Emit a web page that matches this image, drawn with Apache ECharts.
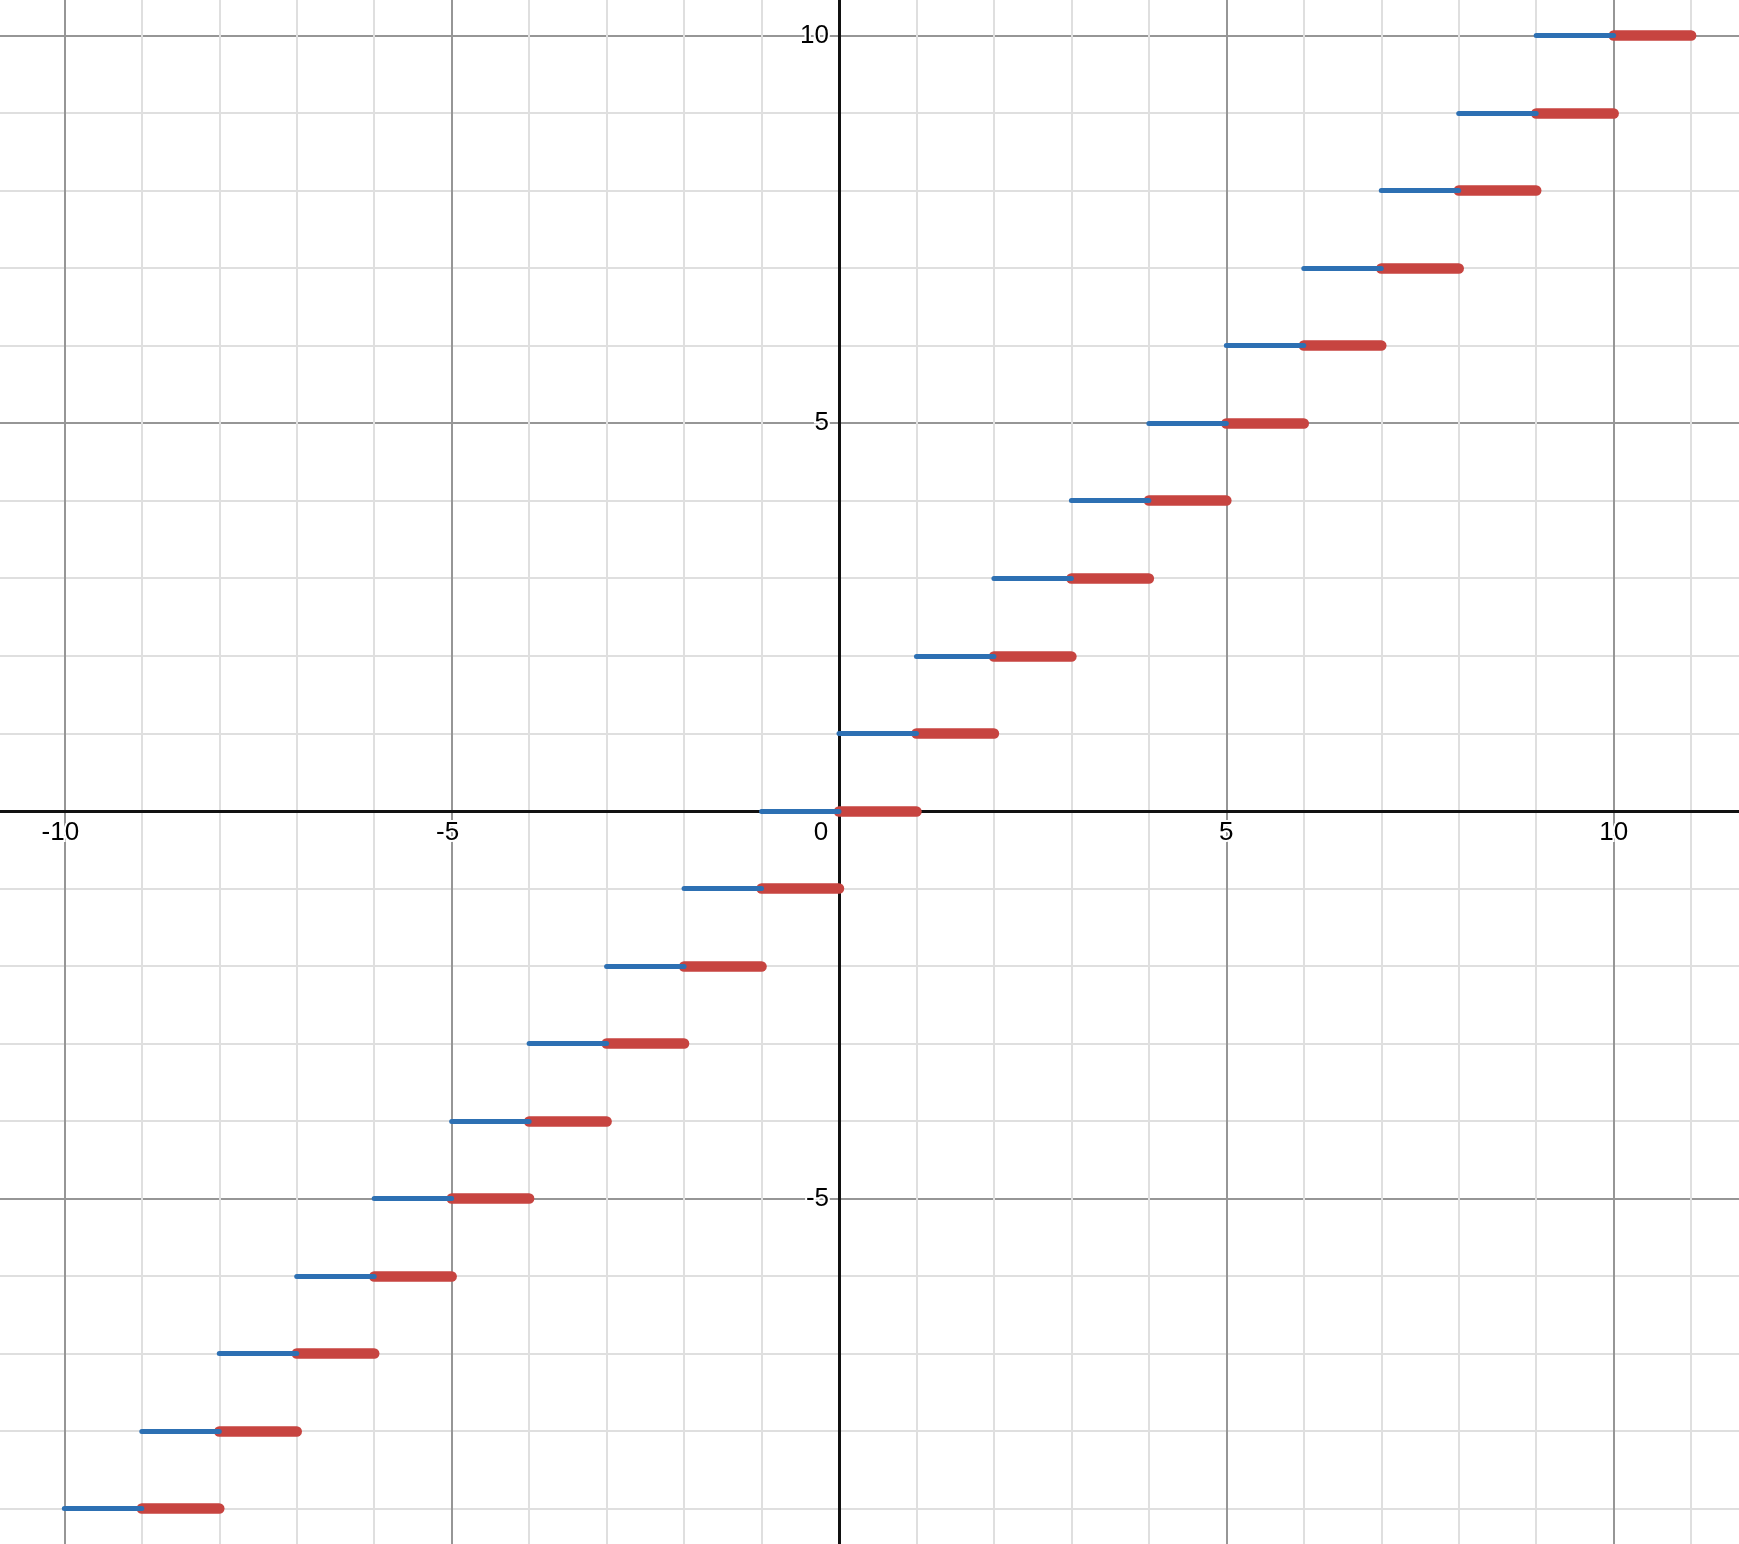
<!DOCTYPE html>
<html><head><meta charset="utf-8">
<script src="https://cdn.jsdelivr.net/npm/echarts@6/dist/echarts.min.js"></script>
<style>
html,body{margin:0;padding:0;overflow:hidden;background:#fff;width:1739px;height:1544px;position:relative;}
#c{position:absolute;left:-323px;top:-352px;width:2324px;height:1938px;}
</style>
</head><body><div id="c"></div>
<script>
// step levels (y values) and segment ends
const levels     = [-9,-8,-7,-6,-5,-4,-3,-2,-1,0,1,2,3,4,5,6,7,8,9,10];
const blueStart  = [-10,-9,-8,-7,-6,-5,-4,-3,-2,-1,0,1,2,3,4,5,6,7,8,9];
const blueEnd    = [-9,-8,-7,-6,-5,-4,-3,-2,-1,0,1,2,3,4,5,6,7,8,9,10];
const redStart   = [-9,-8,-7,-6,-5,-4,-3,-2,-1,0,1,2,3,4,5,6,7,8,9,10];
const redEnd     = [-8,-7,-6,-5,-4,-3,-2,-1,0,1,2,3,4,5,6,7,8,9,10,11];
const xTickLabels = [-10,-5,0,5,10];
const yTickLabels = [-5,5,10];

const FONT = "'Liberation Sans', Arial, sans-serif";
const lblBase = {fontFamily: FONT, fontSize: 26, color: '#000', textBorderColor: '#fff', textBorderWidth: 4};

const blueData = levels.map((y, i) => ({coords: [[blueStart[i], y], [blueEnd[i], y]]}));
const redData  = levels.map((y, i) => ({coords: [[redStart[i], y], [redEnd[i], y]]}));

const chart = echarts.init(document.getElementById('c'), null, {renderer: 'canvas'});
const gridAxisCommon = {
  type: 'value', interval: 5, z: 0,
  axisLine: {show: false, onZero: false},
  axisTick: {show: false},
  axisLabel: {show: false},
  splitLine: {show: true, showMinLine: true, showMaxLine: true, lineStyle: {color: '#969696', width: 2}},
  minorTick: {show: false, splitNumber: 5},
  minorSplitLine: {show: true, lineStyle: {color: '#dfdfdf', width: 2}}
};
const hiddenAxis = {
  type: 'value', show: true, z: 0,
  axisLine: {show: false, onZero: false}, axisTick: {show: false},
  axisLabel: {show: false}, splitLine: {show: false}
};
const axisLineStyle = {color: '#111', width: 3};
chart.setOption({
  animation: false,
  backgroundColor: '#fff',
  grid: [
    // main plotting grid: x -15..15, y -10..15
    {left: 0, right: 0, top: 0, bottom: 0, containLabel: false, outerBoundsMode: 'none'},
    // grid whose bottom edge is y = 0 (holds the x axis line and labels)
    {left: 0, right: 0, top: 0, bottom: '40%', containLabel: false, outerBoundsMode: 'none'},
    // grid whose left edge is x = 0 (holds the y axis line and labels)
    {left: '50%', right: 0, top: 0, bottom: 0, containLabel: false, outerBoundsMode: 'none'}
  ],
  xAxis: [
    Object.assign({}, gridAxisCommon, {gridIndex: 0, min: -15, max: 15}),
    {
      gridIndex: 1, type: 'value', min: -15, max: 15, interval: 5, z: 3, position: 'bottom',
      axisLine: {show: true, onZero: false, lineStyle: axisLineStyle},
      axisTick: {show: false},
      splitLine: {show: false},
      axisLabel: Object.assign({}, lblBase, {
        margin: 9,
        showMinLabel: true, showMaxLabel: true,
        formatter: function (v) {
          if (xTickLabels.indexOf(v) < 0) return '';
          if (v === 0) return '{z|0}';
          if (v < 0) return '{n|' + v + '}';
          return '{p|' + v + '}';
        },
        rich: {
          z: Object.assign({}, lblBase, {padding: [0, 36, 0, 0]}),
          n: Object.assign({}, lblBase, {padding: [0, 8, 0, 0]}),
          p: Object.assign({}, lblBase)
        }
      })
    },
    Object.assign({}, hiddenAxis, {gridIndex: 2, min: 0, max: 15})
  ],
  yAxis: [
    Object.assign({}, gridAxisCommon, {gridIndex: 0, min: -10, max: 15}),
    Object.assign({}, hiddenAxis, {gridIndex: 1, min: 0, max: 15}),
    {
      gridIndex: 2, type: 'value', min: -10, max: 15, interval: 5, z: 3, position: 'left',
      axisLine: {show: true, onZero: false, lineStyle: axisLineStyle},
      axisTick: {show: false},
      splitLine: {show: false},
      axisLabel: Object.assign({}, lblBase, {
        margin: 10,
        showMinLabel: true, showMaxLabel: true,
        formatter: function (v) { return yTickLabels.indexOf(v) < 0 ? '' : String(v); }
      })
    }
  ],
  series: [
    {
      type: 'lines', coordinateSystem: 'cartesian2d', xAxisIndex: 0, yAxisIndex: 0,
      z: 4, silent: true, polyline: false,
      lineStyle: {color: '#c74440', width: 10.5, cap: 'round', opacity: 1, curveness: 0},
      data: redData
    },
    {
      type: 'lines', coordinateSystem: 'cartesian2d', xAxisIndex: 0, yAxisIndex: 0,
      z: 5, silent: true, polyline: false,
      lineStyle: {color: '#2d70b3', width: 5, cap: 'round', opacity: 1, curveness: 0},
      data: blueData
    }
  ]
});
</script>
</body></html>
